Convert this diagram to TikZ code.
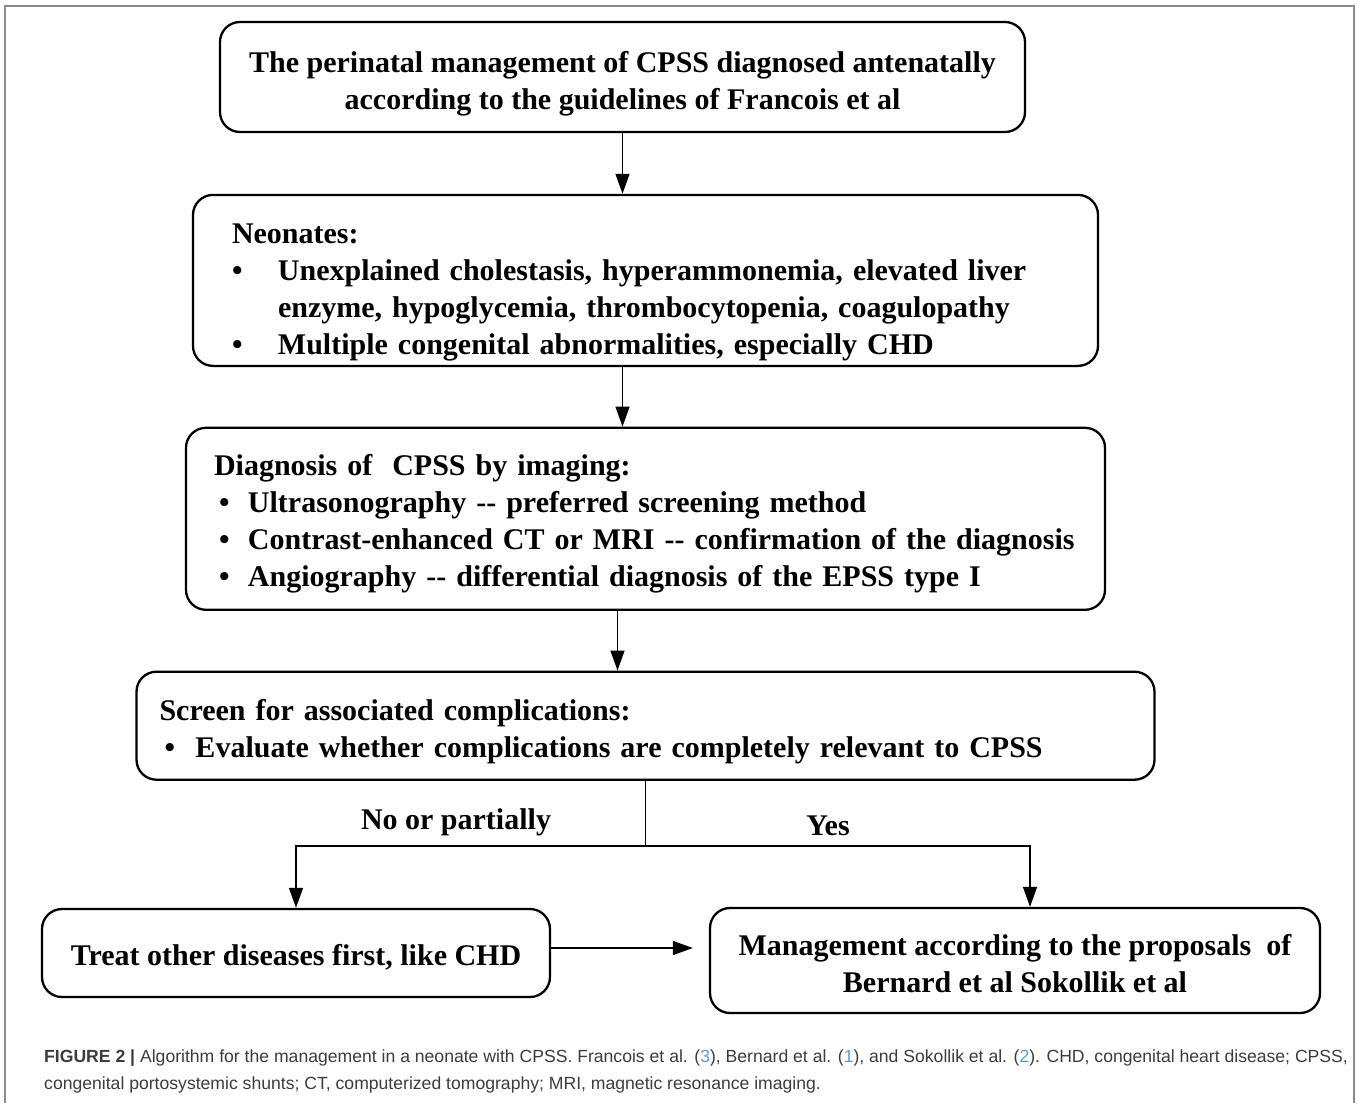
\documentclass[tikz,border=0pt]{standalone}
\usepackage{fontspec}
\setmainfont{Liberation Serif}
\newfontfamily\capfont{Liberation Sans}
\usetikzlibrary{arrows.meta,positioning}
\definecolor{capgray}{HTML}{3C3C3C}
\definecolor{refblue}{HTML}{5B9BD5}
\definecolor{framegray}{HTML}{8C8C8C}
\newcommand{\itmA}[1]{\makebox[46pt][l]{\textbullet}#1}
\newcommand{\itmB}[1]{\hspace*{5pt}\makebox[29pt][l]{\textbullet}#1}
\newcommand{\itmC}[1]{\hspace*{5pt}\makebox[31pt][l]{\textbullet}#1}
\newcommand{\topgap}[1]{\rule{0pt}{#1}}

\begin{document}
\begin{tikzpicture}[x=1pt,y=-1pt,font=\fontsize{30}{37}\selectfont\bfseries,
    box/.style={draw,rounded corners=20pt,line width=2.3pt,inner ysep=4pt},
    link/.style={line width=1.3pt,-{Triangle[length=20pt,width=14pt]}},
    lbl/.style={inner sep=0pt}]
  \useasboundingbox (0,0) rectangle (1357,1103);
  \draw[framegray,line width=1.2pt] (5,1103) -- (5,6) -- (1354,6) -- (1354,1103);

  \node[box,align=center,minimum width=805pt,minimum height=110pt] (intro) at (622.5,77)
    {\topgap{35pt}The perinatal management of CPSS diagnosed antenatally\\according to the guidelines of Francois et al};
  \node[box,align=left,text width=827pt,inner xsep=39pt,minimum height=171pt] (neo) [below=60.6pt of intro,xshift=23pt]
    {\topgap{43pt}Neonates:\\
     \itmA{Unexplained cholestasis, hyperammonemia, elevated liver}\\
     \hspace*{46pt}enzyme, hypoglycemia, thrombocytopenia, coagulopathy\\
     \itmA{Multiple congenital abnormalities, especially CHD}};
  \node[box,align=left,text width=863pt,inner xsep=28pt,minimum height=182pt] (imaging) [below=59.6pt of neo]
    {\topgap{31pt}Diagnosis of~ CPSS by imaging:\\
     \itmB{Ultrasonography -{}- preferred screening method}\\
     \itmB{Contrast-enhanced CT or MRI -{}- confirmation of the diagnosis}\\
     \itmB{Angiography -{}- differential diagnosis of the EPSS type I}};
  \node[box,align=left,text width=972pt,inner xsep=23pt,minimum height=108pt] (screen) [below=59.6pt of imaging]
    {\topgap{33pt}Screen for associated complications:\\
     \itmC{Evaluate whether complications are completely relevant to CPSS}};
  \node[box,align=center,minimum width=508pt,minimum height=88pt] (treat) at (296,953)
    {\topgap{29pt}Treat other diseases first, like CHD};
  \node[box,align=center,minimum width=610pt,minimum height=105pt] (mgmt) at (1015,960.5)
    {\topgap{27pt}Management according to the proposals~ of\\Bernard et al Sokollik et al};

  \coordinate (split) at ([yshift=-65pt]screen.south);
  \node[lbl] (nolbl) at (456,822) {No or partially};
  \node[lbl] (yeslbl) at (828,826) {Yes};

  \draw[link] (intro.south) -- (intro.south |- neo.north);
  \draw[link] (neo.south -| intro.south) -- (imaging.north -| intro.south);
  \draw[link] ([xshift=-28pt]imaging.south) -- ([xshift=-28pt]imaging.south |- screen.north);
  \draw[line width=1.3pt] (screen.south) -- (split);
  \draw[link] (split) -| (treat.north);
  \draw[link] (split) -| ([xshift=15pt]mgmt.north);
  \draw[link,shorten >=16pt] ([yshift=5pt]treat.east) -- ([yshift=5pt]treat.east -| mgmt.west);

  \node[lbl,anchor=north west,align=left,text=capgray,
        font=\capfont\fontsize{17.6}{27}\selectfont] (caption) at (44,1050)
    {\textbf{FIGURE 2 |} Algorithm for the management in a neonate with CPSS. Francois et al. (\textcolor{refblue}{3}), Bernard et al. (\textcolor{refblue}{1}), and Sokollik et al. (\textcolor{refblue}{2}). CHD, congenital heart disease; CPSS,\\
     congenital portosystemic shunts; CT, computerized tomography; MRI, magnetic resonance imaging.};
\end{tikzpicture}
\end{document}
